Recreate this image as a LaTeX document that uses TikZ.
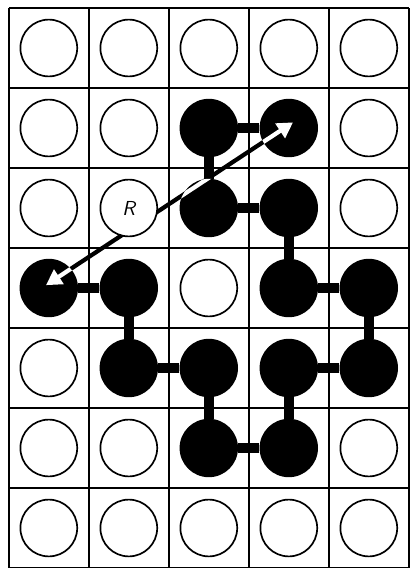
\documentclass[tikz,border=0pt]{standalone}
\usetikzlibrary{arrows.meta}
\begin{document}
\begin{tikzpicture}[x=2cm, y=-2cm,
	site/.style={circle, draw, line width=1.2pt, fill=white, minimum size=1.42cm, inner sep=0pt},
	bead/.style={circle, fill=black, minimum size=1.46cm, inner sep=0pt},
	bond/.style={line width=7pt},
	span/.style={line width=3pt, {Triangle[length=11pt,width=12pt]}-{Triangle[length=11pt,width=12pt]}}]
	\useasboundingbox (-0.11,-0.1) rectangle (5.04,7.0);
	\draw [line width=1.4pt, step=2cm] (0,0) grid (5,7);
	% chain of occupied sites
	\foreach \i/\j in {3/1,2/1,2/2,3/2,3/3,4/3,4/4,3/4,3/5,2/5,2/4,1/4,1/3,0/3}{
	\node [bead] (b-\i-\j) at (\i+0.5,\j+0.5) {};
	}
	\foreach \a/\b in {3-1/2-1,2-1/2-2,2-2/3-2,3-2/3-3,3-3/4-3,4-3/4-4,4-4/3-4,3-4/3-5,3-5/2-5,2-5/2-4,2-4/1-4,1-4/1-3,1-3/0-3}{
	\draw [bond] (b-\a) -- (b-\b);
	}
	% end-to-end vector
	\coordinate (tail) at ([xshift=-2pt,yshift=2pt]b-0-3.center);
	\coordinate (head) at ([xshift=3pt,yshift=4pt]b-3-1.center);
	\draw [span] (tail) -- (head);
	\begin{scope}
	\clip (b-0-3.center) circle [radius=0.365] (b-2-2.center) circle [radius=0.365] (b-3-1.center) circle [radius=0.365];
	\draw [span, white] (tail) -- (head);
	\end{scope}
	% empty sites
	\foreach \i/\j in {0/0,1/0,2/0,3/0,4/0,0/1,1/1,4/1,0/2,4/2,2/3,0/4,0/5,1/5,4/5,0/6,1/6,2/6,3/6,4/6}{
	\node [site] (s-\i-\j) at (\i+0.5,\j+0.5) {};
	}
	\node [site] (s-1-2) at (1.5,2.5) {\Large\sffamily\itshape R};
\end{tikzpicture}
\end{document}
